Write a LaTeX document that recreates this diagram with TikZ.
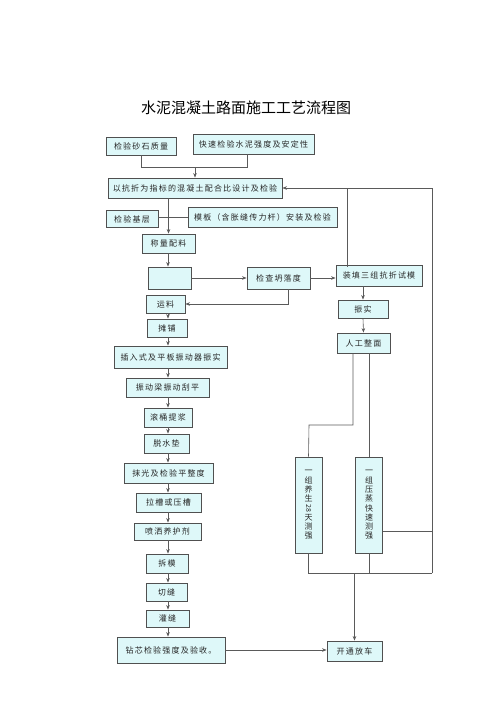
\documentclass[tikz,border=0pt]{standalone}
\usepackage{fontspec}
\newfontfamily\cjk[LetterSpace=15]{Noto Sans CJK SC}
\newfontfamily\cjkplain{Noto Sans CJK SC}
\usetikzlibrary{arrows.meta,calc}
\definecolor{boxfill}{RGB}{222,248,249}
\definecolor{boxline}{RGB}{80,80,80}
\definecolor{conn}{RGB}{90,90,90}
\tikzset{
  box/.style={draw=boxline, line width=0.9pt, fill=boxfill, inner sep=0pt, anchor=center,
    font=\cjk\fontsize{8}{9.5}\selectfont, text=black!85},
  vbox/.style={box, align=center, font=\cjkplain\fontsize{8}{9.3}\selectfont},
  link/.style={draw=conn, line width=0.6pt},
  arr/.style={link, -{Stealth[length=4.5pt,width=3.6pt]}}
}
\begin{document}
\begin{tikzpicture}[x=1pt,y=-1pt]
\useasboundingbox (0,0) rectangle (500,707);
\node[font=\cjkplain\fontsize{15}{15}\selectfont] (title) at (246,108) {水泥混凝土路面施工工艺流程图};
% boxes
\node[box, minimum width=70pt, minimum height=18pt] (a1) at (141,146) {检验砂石质量};
\node[box, minimum width=121pt, minimum height=20pt] (a2) at (253.5,144) {快速检验水泥强度及安定性};
\node[box, minimum width=174pt, minimum height=20pt] (b) at (195,188) {以抗折为指标的混凝土配合比设计及检验};
\node[box, minimum width=52pt, minimum height=17pt] (c1) at (132,219) {检验基层};
\node[box, minimum width=149pt, minimum height=20pt] (c2) at (262.5,217) {模板（含胀缝传力杆）安装及检验};
\node[box, minimum width=53pt, minimum height=19pt] (d) at (168.5,243.5) {称量配料};
\node[box, minimum width=43pt, minimum height=22pt] (e) at (169.5,278) {};
\node[box, minimum width=63pt, minimum height=22pt] (f) at (278.5,278) {检查坍落度};
\node[box, minimum width=86pt, minimum height=21pt] (g) at (379,275.5) {装填三组抗折试模};
\node[box, minimum width=39pt, minimum height=18pt] (h) at (165.5,304) {运料};
\node[box, minimum width=40pt, minimum height=18pt] (i) at (167,328) {摊铺};
\node[box, minimum width=113pt, minimum height=22pt] (j) at (170.5,357) {插入式及平板振动器振实};
\node[box, minimum width=83pt, minimum height=19pt] (k) at (167.5,387.5) {振动梁振动刮平};
\node[box, minimum width=48pt, minimum height=19pt] (l) at (168,417.5) {滚桶提浆};
\node[box, minimum width=45pt, minimum height=19pt] (m) at (166.5,443.5) {脱水垫};
\node[box, minimum width=89pt, minimum height=20pt] (n) at (168.5,473) {抹光及检验平整度};
\node[box, minimum width=65pt, minimum height=19pt] (o) at (168.5,502.5) {拉槽或压槽};
\node[box, minimum width=67pt, minimum height=17pt] (p) at (167.5,531.5) {喷洒养护剂};
\node[box, minimum width=42pt, minimum height=19pt] (q) at (167,563.5) {拆模};
\node[box, minimum width=41pt, minimum height=18pt] (r) at (166.5,592) {切缝};
\node[box, minimum width=43pt, minimum height=17pt] (s) at (167.5,618.5) {灌缝};
\node[box, minimum width=108pt, minimum height=26pt] (t) at (171,650) {钻芯检验强度及验收。};
\node[box, minimum width=55pt, minimum height=20pt] (u) at (354.5,651) {开通放车};
\node[box, minimum width=50pt, minimum height=18pt] (v) at (363,309) {振实};
\node[box, minimum width=53pt, minimum height=20pt] (w) at (363.5,343) {人工整面};
\node[vbox, minimum width=27pt, minimum height=96pt] (y1) at (308.5,505) {一\\组\\养\\生\\\rotatebox[origin=c]{-90}{\fontsize{7}{7}\selectfont 28}\\天\\测\\强};
\node[vbox, minimum width=27pt, minimum height=96pt] (y2) at (369,505) {一\\组\\压\\蒸\\快\\速\\测\\强};
% helper coordinates
\coordinate (sp) at (168,0);
\coordinate (m1) at (195,167);
\coordinate (fb) at (347,188);
\coordinate (rt) at (432,188);
\coordinate (bot) at (432,573);
\coordinate (r2) at (432,531);
\coordinate (k1) at (309,425);
% connectors
\draw[link] (a1.south) |- (m1);
\draw[link] ([xshift=-6.5pt]a2.south) |- (m1);
\draw[arr] (m1) -- (b.north);
\draw[arr] (b.south -| d.north) -- (d.north);
\draw[link] (c1.east |- c2.west) -- (c2.west);
\draw[arr] (d.south -| sp) -- (e.north -| sp);
\draw[arr] (e.east) -- (f.west);
\draw[arr] (f.east) -- (f.east -| g.west);
\draw[arr] (f.north -| fb) |- (b.east);
\draw[link] (bot) -- (rt) -- (fb);
\draw[arr] ([xshift=9.5pt]f.south) |- (h.east);
\draw[arr] (g.south -| v.north) -- (v.north);
\draw[arr] (v.south) -- (w.north);
\draw[link] ([xshift=-10.5pt]w.south) |- (k1) -- (y1.north);
\draw[link] (w.south -| y2.north) -- (y2.north);
\draw[link] (y1.south) |- (bot);
\draw[link] (y2.south) -- (y2.south |- bot);
\draw[link] (y2.east |- r2) -- (r2);
\draw[arr] (u.north |- bot) -- (u.north);
\draw[arr] (t.east) -- (t.east -| u.west);
\foreach \p/\q in {h/i,i/j,j/k,k/l,l/m,m/n,n/o,o/p,p/q,q/r,r/s,s/t}{
  \draw[arr] (\p.south -| sp) -- (\q.north -| sp);
}
\end{tikzpicture}
\end{document}
